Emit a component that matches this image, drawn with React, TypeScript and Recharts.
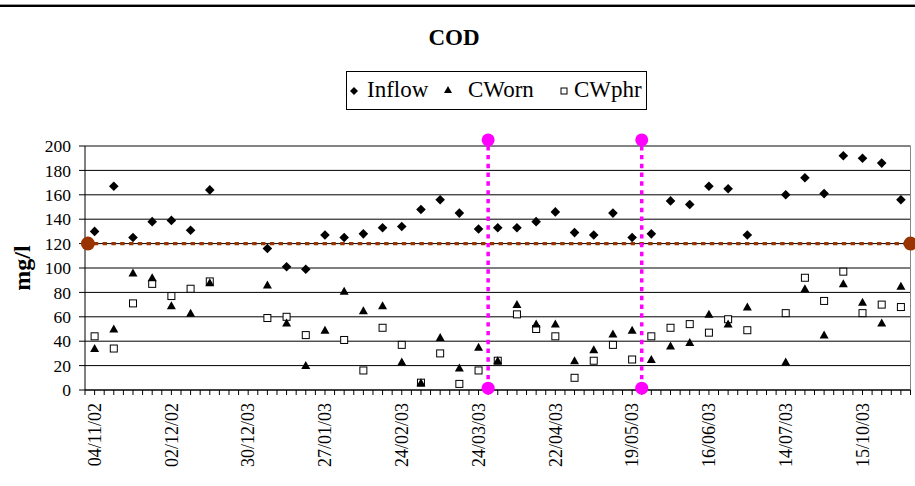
import React from 'react';
import { ScatterChart, Scatter, XAxis, YAxis, CartesianGrid, ReferenceLine, ReferenceDot } from 'recharts';

// weekly samples sit on odd slots of a half-week category axis (0..86)
const slots = [1, 3, 5, 7, 9, 11, 13, 15, 17, 19, 21, 23, 25, 27, 29, 31, 33, 35, 37, 39, 41, 43, 45, 47, 49, 51, 53, 55, 57, 59, 61, 63, 65, 67, 69, 71, 73, 75, 77, 79, 81, 83, 85];

const inflow = [130, 167, 125, 138, 139, 131, 164, null, null, 116, 101, 99, 127, 125, 128, 133, 134, 148, 156, 145, 132, 133, 133, 138, 146, 129, 127, 145, 125, 128, 155, 152, 167, 165, 127, null, 160, 174, 161, 192, 190, 186, 156];
const cworn = [34, 50, 96, 92, 69, 63, 88, null, null, 86, 55, 20, 49, 81, 65, 69, 23, 6, 43, 18, 35, 24, 70, 54, 54, 24, 33, 46, 49, 25, 36, 39, 62, 54, 68, null, 23, 83, 45, 87, 72, 55, 85];
const cwphr = [44, 34, 71, 87, 77, 83, 89, null, null, 59, 60, 45, null, 41, 16, 51, 37, 6, 30, 5, 16, 24, 62, 50, 44, 10, 24, 37, 25, 44, 51, 54, 47, 58, 49, null, 63, 92, 73, 97, 63, 70, 68];

const dateLabels = ['04/11/02', '02/12/02', '30/12/03', '27/01/03', '24/02/03', '24/03/03', '22/04/03', '19/05/03', '16/06/03', '14/07/03', '15/10/03'];
const labelSlots = [1, 9, 17, 25, 33, 41, 49, 57, 65, 73, 81];

const slotCount = 86;
const limit = 120;
const periodSlots = [42, 58];
const yTicks = [0, 20, 40, 60, 80, 100, 120, 140, 160, 180, 200];

const FONT = '"Liberation Serif", "Times New Roman", serif';
const BROWN = '#993300';
const MAGENTA = '#FF00FF';

const toPoints = (vals: (number | null)[]) =>
  slots.map((s, i) => ({ x: s, y: vals[i] })).filter((p) => p.y !== null);

const allTicks = Array.from({ length: slotCount + 1 }, (_, i) => i);

const Diamond = (props: any) => {
  const { cx, cy } = props;
  const r = 4.8;
  return <polygon points={`${cx},${cy - r} ${cx + r},${cy} ${cx},${cy + r} ${cx - r},${cy}`} fill="#000" />;
};

const Triangle = (props: any) => {
  const { cx, cy } = props;
  return <polygon points={`${cx},${cy - 4.5} ${cx + 4.5},${cy + 3.5} ${cx - 4.5},${cy + 3.5}`} fill="#000" />;
};

const Square = (props: any) => {
  const { cx, cy } = props;
  return <rect x={cx - 3.5} y={cy - 3.5} width={7} height={7} fill="#fff" stroke="#000" strokeWidth={1} />;
};

const DateTick = (props: any) => {
  const { x, y, payload } = props;
  const idx = labelSlots.indexOf(payload.value);
  if (idx < 0) return null;
  return (
    <text x={x} y={y} transform={`rotate(-90, ${x}, ${y})`} textAnchor="end" dy="0.35em"
      fontSize={18} fontFamily={FONT} fill="#000">
      {dateLabels[idx]}
    </text>
  );
};

const legendText = { position: 'absolute' as const, top: 5, lineHeight: '26px' };

const LegendBox = () => (
  <div style={{
    position: 'absolute', left: 346, top: 71, width: 299, height: 37, border: '1px solid #000',
    fontFamily: FONT, fontSize: 23, color: '#000', background: '#fff',
  }}>
    <svg width={14} height={14} style={{ position: 'absolute', left: 0, top: 12 }}><polygon points="7,3 11,7 7,11 3,7" fill="#000" /></svg>
    <span style={{ ...legendText, left: 20 }}>Inflow</span>
    <svg width={14} height={14} style={{ position: 'absolute', left: 94, top: 11 }}><polygon points="7,3 11,10 3,10" fill="#000" /></svg>
    <span style={{ ...legendText, left: 121 }}>CWorn</span>
    <svg width={14} height={14} style={{ position: 'absolute', left: 210, top: 12 }}><rect x={4} y={4} width={6} height={6} fill="#fff" stroke="#000" /></svg>
    <span style={{ ...legendText, left: 227 }}>CWphr</span>
  </div>
);

export default function App() {
  return (
    <div style={{ position: 'absolute', left: 0, top: 0, width: 915, height: 486, background: '#fff', overflow: 'hidden' }}>
      <div style={{ position: 'absolute', left: 0, top: 4, width: 915, height: 1, background: '#999' }} />
      <div style={{ position: 'absolute', left: 0, top: 5, width: 915, height: 2, background: '#000' }} />
      <div style={{
        position: 'absolute', left: 0, width: 908, top: 25, textAlign: 'center',
        fontFamily: FONT, fontWeight: 'bold', fontSize: 23, color: '#000',
      }}>COD</div>
      <LegendBox />
      <div style={{ position: 'absolute', left: 0, top: 0 }}>
        <ScatterChart width={915} height={486} margin={{ top: 146, right: 4.5, bottom: 6, left: 0 }}>
          <CartesianGrid vertical={false} stroke="#000" strokeWidth={1} />
          <XAxis
            type="number" dataKey="x" domain={[0, slotCount]} ticks={allTicks} interval={0}
            allowDataOverflow height={90} tickSize={5} tickMargin={8}
            axisLine={{ stroke: '#000' }} tickLine={{ stroke: '#000' }} tick={<DateTick />}
          />
          <YAxis
            type="number" dataKey="y" domain={[0, 200]} ticks={yTicks} interval={0} width={85}
            tickSize={6} tickMargin={8} axisLine={{ stroke: '#000' }} tickLine={{ stroke: '#000' }}
            tick={{ fontSize: 17.5, fontFamily: FONT, fill: '#000' }}
            label={{
              content: (p: any) => {
                const vb = p.viewBox;
                const cy = vb.y + vb.height / 2;
                return (
                  <text x={22} y={cy} transform={`rotate(-90, 22, ${cy})`} textAnchor="middle" dy="0.35em"
                    fontSize={24} fontWeight="bold" fontFamily={FONT} fill="#000">mg/l</text>
                );
              },
            }}
          />
          <ReferenceLine y={200} stroke="#888" ifOverflow="visible" />
          <ReferenceLine x={slotCount} stroke="#888" ifOverflow="visible" />
          <Scatter name="Inflow" data={toPoints(inflow)} shape={<Diamond />} isAnimationActive={false} />
          <Scatter name="CWphr" data={toPoints(cwphr)} shape={<Square />} isAnimationActive={false} />
          <Scatter name="CWorn" data={toPoints(cworn)} shape={<Triangle />} isAnimationActive={false} />
          <ReferenceLine y={limit} stroke={BROWN} strokeWidth={3.2} strokeDasharray="4.4 4.4" ifOverflow="visible" />
          <ReferenceDot x={0.3} y={limit} r={7} fill={BROWN} stroke="none" ifOverflow="visible" />
          <ReferenceDot x={slotCount} y={limit} r={7} fill={BROWN} stroke="none" ifOverflow="visible" />
          {periodSlots.map((s) => (
            <ReferenceLine key={`l${s}`} segment={[{ x: s, y: 1.5 }, { x: s, y: 205 }]} stroke={MAGENTA}
              strokeWidth={3.5} strokeDasharray="4.4 4.4" ifOverflow="visible" />
          ))}
          {periodSlots.map((s) => (
            <ReferenceDot key={`t${s}`} x={s} y={205} r={6.5} fill={MAGENTA} stroke="none" ifOverflow="visible" />
          ))}
          {periodSlots.map((s) => (
            <ReferenceDot key={`b${s}`} x={s} y={1.5} r={6.5} fill={MAGENTA} stroke="none" ifOverflow="visible" />
          ))}
        </ScatterChart>
      </div>
    </div>
  );
}
